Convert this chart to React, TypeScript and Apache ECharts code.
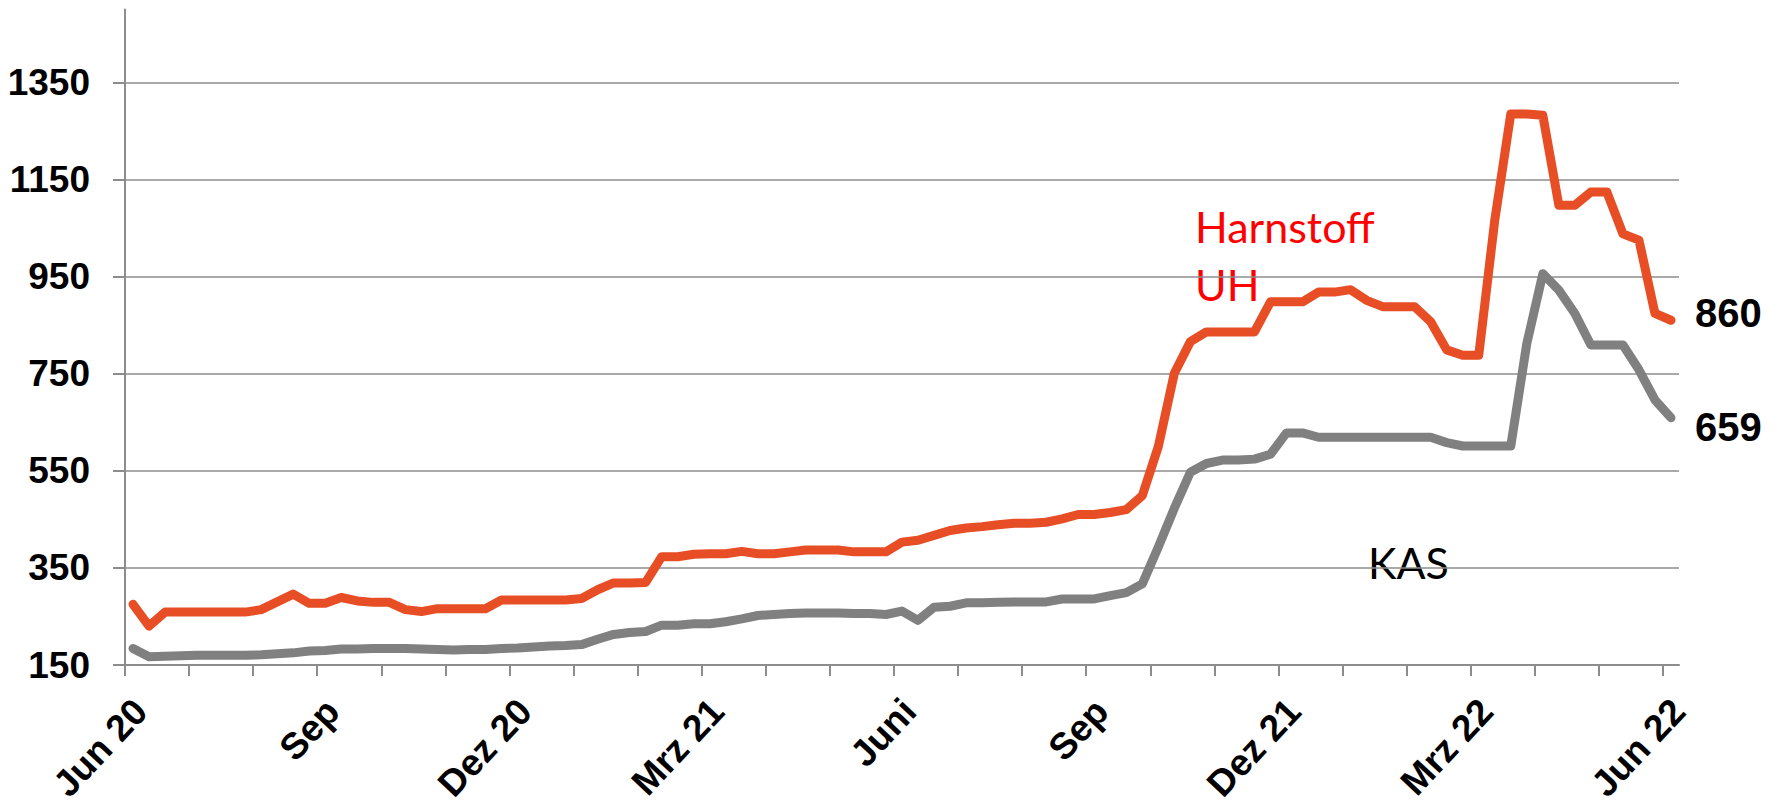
import React, { useEffect, useRef } from "react";
import * as echarts from "echarts";

// Months shown on the axis (24 months, 4 weekly points per month, plus the final point)
const months = [
  "Jun 20", "Jul 20", "Aug 20", "Sep 20", "Okt 20", "Nov 20", "Dez 20",
  "Jan 21", "Feb 21", "Mrz 21", "Apr 21", "Mai 21", "Jun 21", "Jul 21",
  "Aug 21", "Sep 21", "Okt 21", "Nov 21", "Dez 21", "Jan 22", "Feb 22",
  "Mrz 22", "Apr 22", "Mai 22", "Jun 22",
];
const weeks = ["W1", "W2", "W3", "W4"];
const pointCount = 97;
const categories: string[] = months
  .flatMap((m) => weeks.map((w) => `${m} ${w}`))
  .slice(0, pointCount);

// Tick labels (every 3 months) and monthly tick positions (in weekly category units)
const tickLabels = ["Jun 20", "Sep", "Dez 20", "Mrz 21", "Juni", "Sep", "Dez 21", "Mrz 22", "Jun 22"];
const monthTicks = [0, 4, 8, 12, 16, 20, 24, 28, 32, 36, 40, 44, 48, 52, 56, 60, 64, 68, 72, 76, 80, 84, 88, 92, 96];
const yTicks = [150, 350, 550, 750, 950, 1150, 1350];

// Harnstoff UH (Urea)
const harnstoff = [
  275, 230, 259, 259, 259, 259, 259, 259, 264, 280,
  296, 277, 277, 289, 282, 279, 279, 264, 260, 266,
  266, 266, 266, 284, 284, 284, 284, 284, 287, 305,
  319, 319, 320, 373, 373, 378, 379, 379, 384, 379,
  379, 383, 387, 387, 387, 383, 383, 383, 403, 407,
  417, 427, 432, 435, 439, 442, 442, 444, 451, 460,
  460, 464, 470, 499, 600, 751, 816, 836, 836, 836,
  836, 898, 898, 898, 918, 918, 923, 901, 888, 888,
  888, 857, 799, 788, 788, 1066, 1285, 1285, 1282, 1097,
  1097, 1124, 1124, 1038, 1025, 874, 860,
];

// KAS
const kas = [
  184, 167, 168, 169, 170, 170, 170, 170, 171, 173,
  175, 179, 180, 183, 183, 184, 184, 184, 183, 182,
  181, 182, 182, 184, 185, 187, 189, 190, 192, 203,
  213, 217, 219, 232, 232, 235, 235, 239, 245, 252,
  254, 256, 257, 257, 257, 256, 256, 254, 261, 242,
  269, 271, 278, 278, 279, 280, 280, 280, 286, 286,
  286, 293, 299, 317, 393, 473, 547, 565, 572, 572,
  574, 584, 628, 628, 619, 619, 619, 619, 619, 619,
  619, 619, 608, 601, 601, 601, 601, 812, 956, 922,
  874, 809, 809, 809, 758, 696, 659,
];

const AXIS_COLOR = "#8c8c8c";
const ORANGE = "#e84e25";
const GRAY = "#808080";
const BOLD_FONT = "'Liberation Sans', Arial, sans-serif";
const TEXT_FONT = "Lato, 'Noto Sans', sans-serif";

export default function App() {
  const ref = useRef<HTMLDivElement>(null);

  useEffect(() => {
    document.body.style.margin = "0";
    if (!ref.current) return;
    const chart = echarts.init(ref.current, null, { renderer: "svg" });

    const lineCommon = {
      type: "line",
      xAxisIndex: 0,
      showSymbol: false,
      symbol: "none",
      smooth: false,
      silent: true,
    };

    chart.setOption({
      animation: false,
      backgroundColor: "#ffffff",
      grid: {
        left: 125,
        top: 9.5,
        width: 1554,
        height: 655.5,
        outerBoundsMode: "none",
      },
      xAxis: [
        {
          type: "category",
          data: categories,
          boundaryGap: true,
          position: "bottom",
          axisLine: { show: true, onZero: false, lineStyle: { color: AXIS_COLOR, width: 2 } },
          axisTick: { show: false },
          axisLabel: {
            show: true,
            interval: 11,
            rotate: 47,
            margin: 33,
            verticalAlign: "top",
            lineHeight: 20,
            fontSize: 37,
            fontWeight: "bold",
            fontFamily: BOLD_FONT,
            color: "#000",
            formatter: (_v: string, i: number) => tickLabels[Math.round(i / 12)] ?? "",
          },
          splitLine: { show: false },
        },
        {
          // monthly tick marks, in weekly-category units
          type: "value",
          min: 0,
          max: pointCount,
          position: "bottom",
          axisLine: { show: false, onZero: false },
          axisTick: {
            show: true,
            length: 11,
            customValues: monthTicks,
            lineStyle: { color: AXIS_COLOR, width: 2 },
          },
          axisLabel: { show: false, customValues: monthTicks },
          splitLine: { show: false },
        },
      ],
      yAxis: {
        type: "value",
        min: 150,
        max: 1500,
        axisLine: { show: true, lineStyle: { color: AXIS_COLOR, width: 2 } },
        axisTick: {
          show: true,
          length: 12,
          customValues: yTicks,
          lineStyle: { color: AXIS_COLOR, width: 2 },
        },
        axisLabel: {
          show: true,
          customValues: yTicks,
          margin: 35,
          fontSize: 37,
          fontWeight: "bold",
          fontFamily: BOLD_FONT,
          color: "#000",
          formatter: (v: number) => String(v),
        },
        splitLine: { show: true, lineStyle: { color: AXIS_COLOR, width: 1.5 } },
      },
      series: [
        {
          ...lineCommon,
          name: "KAS",
          data: kas,
          lineStyle: { color: GRAY, width: 9, cap: "round", join: "round" },
          itemStyle: { color: GRAY },
          endLabel: {
            show: true,
            formatter: "{c}",
            distance: 24,
            offset: [0, 9],
            fontSize: 40,
            fontWeight: "bold",
            fontFamily: BOLD_FONT,
            color: "#000",
          },
        },
        {
          ...lineCommon,
          name: "Harnstoff UH",
          data: harnstoff,
          lineStyle: { color: ORANGE, width: 9, cap: "round", join: "round" },
          itemStyle: { color: ORANGE },
          endLabel: {
            show: true,
            formatter: "{c}",
            distance: 24,
            offset: [0, -7],
            fontSize: 40,
            fontWeight: "bold",
            fontFamily: BOLD_FONT,
            color: "#000",
          },
        },
      ],
      graphic: [
        {
          type: "text",
          x: 1195,
          y: 226,
          silent: true,
          style: {
            text: "Harnstoff",
            fill: "#ff0000",
            fontSize: 43,
            fontFamily: TEXT_FONT,
            align: "left",
            verticalAlign: "middle",
          },
        },
        {
          type: "text",
          x: 1195,
          y: 284,
          silent: true,
          style: {
            text: "UH",
            fill: "#ff0000",
            fontSize: 43,
            fontFamily: TEXT_FONT,
            align: "left",
            verticalAlign: "middle",
          },
        },
        {
          type: "text",
          x: 1368,
          y: 562,
          silent: true,
          style: {
            text: "KAS",
            fill: "#000000",
            fontSize: 43,
            fontFamily: TEXT_FONT,
            align: "left",
            verticalAlign: "middle",
          },
        },
      ],
    });

    return () => {
      chart.dispose();
    };
  }, []);

  return (
    <div
      ref={ref}
      style={{ position: "absolute", left: 0, top: 0, width: 1785, height: 805 }}
    />
  );
}
